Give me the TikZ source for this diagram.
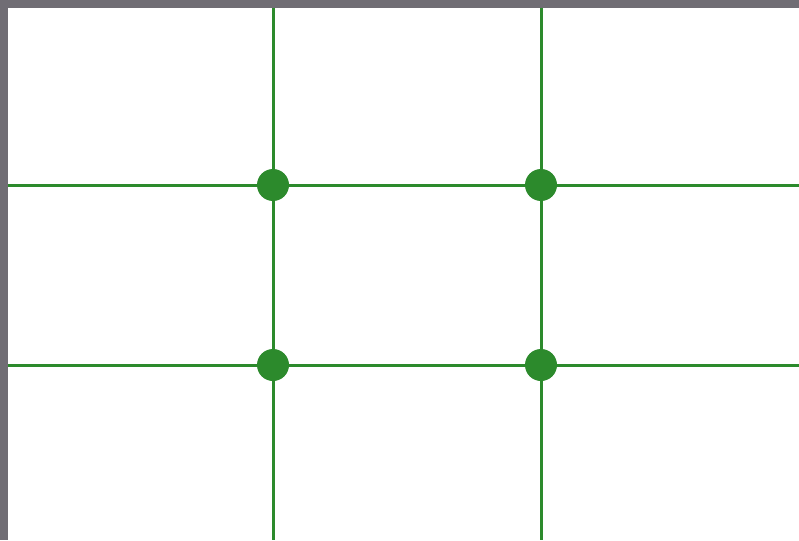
\documentclass[tikz,border=0pt]{standalone}
\definecolor{grn}{RGB}{44,138,44}
\definecolor{frame}{RGB}{112,109,116}
\tikzset{gridline/.style={draw=grn,line width=3pt},
  dot/.style={circle,fill=grn,inner sep=0pt,minimum size=32pt}}
\begin{document}
\begin{tikzpicture}[x=1pt,y=-1pt]
\useasboundingbox (0,0) rectangle (799,540);
\fill[frame] (0,0) rectangle (799,540);
\fill[white] (8,8) rectangle (799,540);
\coordinate (vt1) at (273,8); \coordinate (vb1) at (273,540);
\coordinate (vt2) at (541,8); \coordinate (vb2) at (541,540);
\coordinate (hl1) at (8,185); \coordinate (hr1) at (799,185);
\coordinate (hl2) at (8,365); \coordinate (hr2) at (799,365);
\draw[gridline] (vt1) -- (vb1);
\draw[gridline] (vt2) -- (vb2);
\draw[gridline] (hl1) -- (hr1);
\draw[gridline] (hl2) -- (hr2);
\node[dot] (d1) at (273,185) {};
\node[dot] (d2) at (541,185) {};
\node[dot] (d3) at (273,365) {};
\node[dot] (d4) at (541,365) {};
\end{tikzpicture}
\end{document}
